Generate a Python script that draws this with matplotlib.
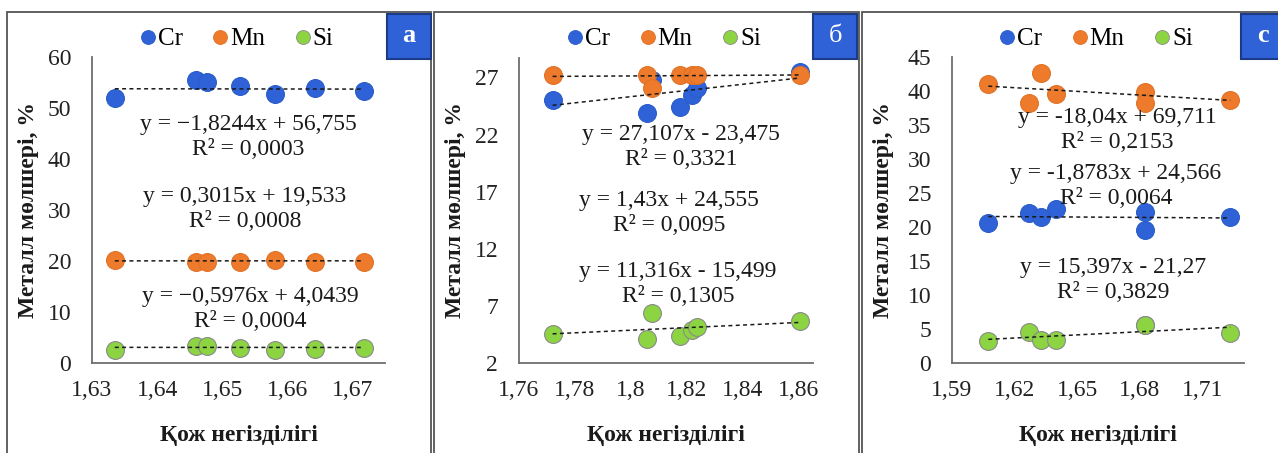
import matplotlib
matplotlib.use("Agg")
import matplotlib.pyplot as plt
import numpy as np
from matplotlib.patches import Rectangle
from matplotlib.lines import Line2D

plt.rcParams['font.family'] = ['Liberation Serif', 'DejaVu Serif']

W, H = 1278, 453

# ---- data -------------------------------------------------------------
series_names = ["Cr", "Mn", "Si"]
series_colors = ["#2E62D6", "#EE7A2C", "#8CD442"]
series_edges = ["#2A5CC8", "#E07226", "#8A8A8A"]

# panel а
x_a = [1.6335, 1.6460, 1.6477, 1.6528, 1.6581, 1.6643, 1.6717]
cr_a = [52.0, 55.5, 55.1, 54.3, 52.7, 53.9, 53.3]
mn_a = [20.2, 19.8, 19.9, 19.9, 20.1, 19.9, 19.9]
si_a = [2.5, 3.3, 3.4, 3.0, 2.6, 2.8, 2.9]
fit_a = [(-1.8244, 56.755), (0.3015, 19.533), (-0.5976, 4.0439)]
eq_a = ["y = −1,8244x + 56,755\nR² = 0,0003",
        "y = 0,3015x + 19,533\nR² = 0,0008",
        "y = −0,5976x + 4,0439\nR² = 0,0004"]

# panel б
x_b = [1.7720, 1.8056, 1.8074, 1.8175, 1.8217, 1.8234, 1.8605]
cr_b = [25.0, 23.85, 26.8, 24.4, 25.5, 26.1, 27.5]
mn_b = [27.2, 27.2, 26.1, 27.2, 27.2, 27.2, 27.2]
si_b = [4.56, 4.12, 6.4, 4.33, 4.9, 5.15, 5.7]
fit_b = [(27.107, -23.475), (1.43, 24.555), (11.316, -15.499)]
eq_b = ["y = 27,107x - 23,475\nR² = 0,3321",
        "y = 1,43x + 24,555\nR² = 0,0095",
        "y = 11,316x - 15,499\nR² = 0,1305"]

# panel c
x_c = [1.6074, 1.6268, 1.6329, 1.6398, 1.6823, 1.6823, 1.7234]
cr_c = [20.6, 22.0, 21.4, 22.6, 22.2, 19.6, 21.4]
mn_c = [41.0, 38.3, 42.7, 39.6, 39.9, 38.3, 38.7]
si_c = [3.2, 4.5, 3.4, 3.4, 5.6, 5.6, 4.4]
fit_c = [(-1.8783, 24.566), (-18.04, 69.711), (15.397, -21.27)]
eq_c = ["y = -18,04x + 69,711\nR² = 0,2153",
        "y = -1,8783x + 24,566\nR² = 0,0064",
        "y = 15,397x - 21,27\nR² = 0,3829"]

xticks_a = [1.63, 1.64, 1.65, 1.66, 1.67]
xticks_b = [1.76, 1.78, 1.80, 1.82, 1.84, 1.86]
xticks_c = [1.59, 1.62, 1.65, 1.68, 1.71]
xtick_labels_a = ["1,63", "1,64", "1,65", "1,66", "1,67"]
xtick_labels_b = ["1,76", "1,78", "1,8", "1,82", "1,84", "1,86"]
xtick_labels_c = ["1,59", "1,62", "1,65", "1,68", "1,71"]
yticks_a = [0, 10, 20, 30, 40, 50, 60]
yticks_b = [2, 7, 12, 17, 22, 27]
yticks_c = [0, 5, 10, 15, 20, 25, 30, 35, 40, 45]

panel_letters = ["а", "б", "c"]
x_title = "Қож негізділігі"
y_title = "Металл мөлшері, %"

# ---- layout helpers ---------------------------------------------------
fig = plt.figure(figsize=(W / 100, H / 100), dpi=100)


def fx(px):
    return px / W


def fy(py):
    return 1 - py / H


def add_axes_px(x0, y0, x1, y1):
    return fig.add_axes([fx(x0), fy(y1), (x1 - x0) / W, (y1 - y0) / H])


panels = [
    dict(box=(7, 12, 431, 470), ax=(92, 57, 385, 363), xlim=(1.63, 1.675), ylim=(0, 60),
         x=x_a, ys=[cr_a, mn_a, si_a], fits=fit_a, eqs=eq_a,
         eqpos=[(248, 137), (245, 209), (250, 309)],
         xt=xticks_a, xtl=xtick_labels_a, yt=yticks_a, badge=(387, 14, 431, 59)),
    dict(box=(434, 12, 859, 470), ax=(519, 58, 813, 363), xlim=(1.76, 1.865), ylim=(2, 28.7),
         x=x_b, ys=[cr_b, mn_b, si_b], fits=fit_b, eqs=eq_b,
         eqpos=[(681, 147), (669, 213), (678, 284)],
         xt=xticks_b, xtl=xtick_labels_b, yt=yticks_b, badge=(813, 14, 857, 59)),
    dict(box=(862, 12, 1290, 470), ax=(952, 57, 1244, 363), xlim=(1.59, 1.73), ylim=(0, 45),
         x=x_c, ys=[cr_c, mn_c, si_c], fits=fit_c, eqs=eq_c,
         eqpos=[(1117, 130), (1116, 186), (1113, 280)],
         xt=xticks_c, xtl=xtick_labels_c, yt=yticks_c, badge=(1241, 14, 1290, 59)),
]

for i, p in enumerate(panels):
    bx0, by0, bx1, by1 = p["box"]
    fig.patches.append(Rectangle((fx(bx0), fy(by1)), (bx1 - bx0) / W, (by1 - by0) / H,
                                 transform=fig.transFigure, fill=False,
                                 edgecolor="#555555", linewidth=1.3, zorder=0))

    ax = add_axes_px(*p["ax"])
    ax.patch.set_alpha(0)
    ax.set_xlim(*p["xlim"])
    ax.set_ylim(*p["ylim"])
    for s in ("top", "right"):
        ax.spines[s].set_visible(False)
    for s in ("left", "bottom"):
        ax.spines[s].set_color("#6e6e6e")
        ax.spines[s].set_linewidth(1.3)
    ax.set_xticks(p["xt"])
    ax.set_xticklabels(p["xtl"])
    ax.set_yticks(p["yt"])
    ax.tick_params(length=0, labelsize=17, colors="#222222")
    ax.tick_params(axis="x", pad=12)
    ax.tick_params(axis="y", pad=15)

    xs = np.array(p["x"])
    for ys, col, ec, name in zip(p["ys"], series_colors, series_edges, series_names):
        ax.scatter(xs, ys, s=165, color=col, edgecolors=ec, linewidths=0.8, zorder=3,
                   clip_on=False)
    # linear trend lines from the stated equations
    for (k, b) in p["fits"]:
        xx = np.array([xs.min(), xs.max()])
        ax.plot(xx, k * xx + b, color="#1a1a1a", linewidth=1.1,
                linestyle=(0, (2.6, 2.2)), zorder=4)

    for (ex, ey), txt in zip(p["eqpos"], p["eqs"]):
        fig.text(fx(ex), fy(ey), txt, ha="center", va="center", fontsize=17,
                 color="#1a1a1a", linespacing=1.3)

    ax0, ay0, ax1, ay1 = p["ax"]
    fig.text(fx((ax0 + ax1) / 2), fy(435), x_title, ha="center", va="center",
             fontsize=17, fontweight="bold", color="#1a1a1a")
    fig.text(fx(bx0 + 22), fy((ay0 + ay1) / 2), y_title, ha="center", va="center",
             rotation=90, fontsize=17, fontweight="bold", color="#1a1a1a")

    handles = [Line2D([], [], linestyle="none", marker="o", markersize=10,
                      markerfacecolor=c, markeredgecolor=e, markeredgewidth=0.6)
               for c, e in zip(series_colors, series_edges)]
    leg = fig.legend(handles, series_names, loc="center",
                     bbox_to_anchor=(fx((ax0 + ax1) / 2 - 3), fy(39)), ncol=3,
                     frameon=False, fontsize=18, handletextpad=0.0, columnspacing=1.1,
                     handlelength=0.8, borderaxespad=0)

    gx0, gy0, gx1, gy1 = p["badge"]
    fig.patches.append(Rectangle((fx(gx0), fy(gy1)), (gx1 - gx0) / W, (gy1 - gy0) / H,
                                 transform=fig.transFigure, facecolor="#2E62D6",
                                 edgecolor="#1C3A86", linewidth=1.5, zorder=5))
    fig.text(fx((gx0 + gx1) / 2 if i < 2 else gx0 + 22), fy((gy0 + gy1) / 2 - 1),
             panel_letters[i], ha="center", va="center", fontsize=19,
             fontweight="bold" if i != 1 else "normal", color="white", zorder=6)

fig.savefig("out.png", dpi=100, facecolor="white")
